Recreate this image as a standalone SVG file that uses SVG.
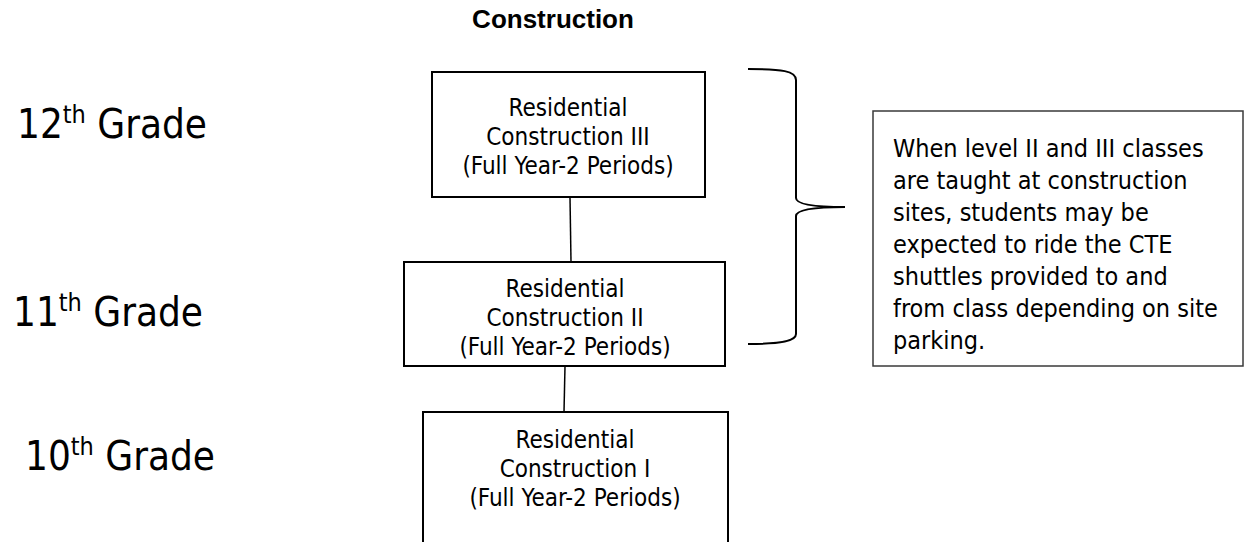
<svg xmlns="http://www.w3.org/2000/svg" width="1245" height="542" viewBox="0 0 1245 542">
  <style>
    .box { fill: #ffffff; stroke: #000000; stroke-width: 2; }
    .note { fill: #ffffff; stroke: #3a3a3a; stroke-width: 1.5; }
    .link { fill: none; stroke: #000000; stroke-width: 1.5; }
    .brace { fill: none; stroke: #000000; stroke-width: 2; }
    .title { font-family: "Liberation Sans", Arial, sans-serif; font-weight: bold; font-size: 26px; fill: #000; }
    .grade { font-family: "DejaVu Sans Condensed", "DejaVu Sans", sans-serif; font-size: 40px; fill: #000; }
    .sup { font-size: 25px; }
    .label { font-family: "DejaVu Sans Condensed", "DejaVu Sans", sans-serif; font-size: 24px; fill: #000; text-anchor: middle; }
    .notetext { font-family: "DejaVu Sans Condensed", "DejaVu Sans", sans-serif; font-size: 25px; fill: #000; }
  </style>

  <rect width="1245" height="542" fill="#ffffff"/>

  <text class="title" x="553" y="28" text-anchor="middle">Construction</text>

  <!-- grade labels -->
  <g id="grade12">
    <text class="grade" x="17" y="138">12<tspan class="sup" dy="-15">th</tspan><tspan dy="15"> Grade</tspan></text>
  </g>
  <g id="grade11">
    <text class="grade" x="13" y="326">11<tspan class="sup" dy="-15">th</tspan><tspan dy="15"> Grade</tspan></text>
  </g>
  <g id="grade10">
    <text class="grade" x="25" y="470">10<tspan class="sup" dy="-15">th</tspan><tspan dy="15"> Grade</tspan></text>
  </g>

  <!-- connectors between course levels -->
  <g id="connectors">
    <line class="link" x1="570" y1="197" x2="571" y2="262"/>
    <line class="link" x1="565" y1="366" x2="564" y2="412"/>
  </g>

  <!-- course boxes -->
  <g id="course3">
    <rect class="box" x="432" y="72" width="273" height="125"/>
    <text class="label" x="568" y="116">Residential</text>
    <text class="label" x="568" y="145">Construction III</text>
    <text class="label" x="568" y="174">(Full Year-2 Periods)</text>
  </g>
  <g id="course2">
    <rect class="box" x="404" y="262" width="321" height="104"/>
    <text class="label" x="565" y="297">Residential</text>
    <text class="label" x="565" y="326">Construction II</text>
    <text class="label" x="565" y="355">(Full Year-2 Periods)</text>
  </g>
  <g id="course1">
    <rect class="box" x="423" y="412" width="305" height="140"/>
    <text class="label" x="575" y="448">Residential</text>
    <text class="label" x="575" y="477">Construction I</text>
    <text class="label" x="575" y="506">(Full Year-2 Periods)</text>
  </g>

  <!-- brace grouping levels II and III -->
  <g id="brace">
    <path class="brace" d="M748,69 C782,69 796,71 796,80 L796,198 C796,204 812,207 845,207 C812,207 796,210 796,216 L796,334 C796,341 782,344 748,344"/>
  </g>

  <!-- explanatory note -->
  <g id="note">
    <rect class="note" x="873" y="111" width="370" height="255"/>
    <text class="notetext" x="893" y="157">When level II and III classes</text>
    <text class="notetext" x="893" y="189">are taught at construction</text>
    <text class="notetext" x="893" y="221">sites, students may be</text>
    <text class="notetext" x="893" y="253">expected to ride the CTE</text>
    <text class="notetext" x="893" y="285">shuttles provided to and</text>
    <text class="notetext" x="893" y="317">from class depending on site</text>
    <text class="notetext" x="893" y="349">parking.</text>
  </g>
</svg>
